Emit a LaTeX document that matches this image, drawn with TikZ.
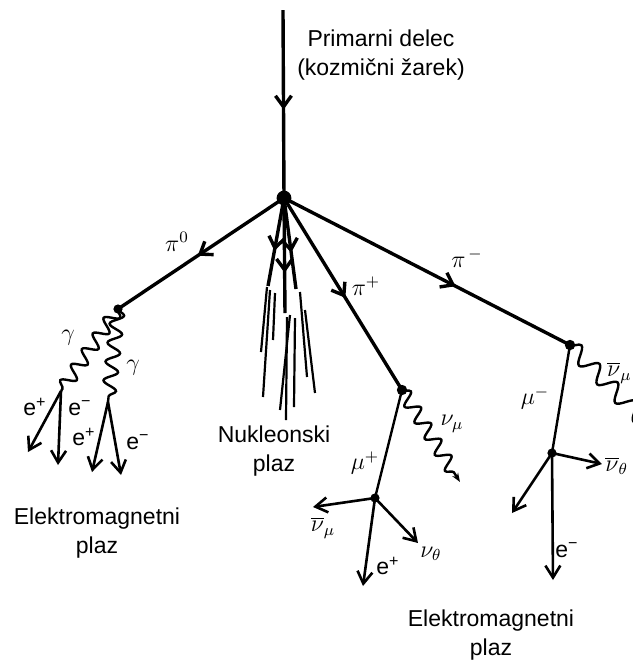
\documentclass[tikz,border=0pt]{standalone}
\usepackage{fontspec}
\setmainfont{Liberation Sans}
\usetikzlibrary{arrows.meta,decorations.pathmorphing,decorations.markings}

\tikzset{
  track/.style={line width=1.7pt},
  lepton/.style={line width=1.3pt, -{Straight Barb[length=6pt,width=7.5pt]}},
  midarrow/.style={postaction={decorate},
    decoration={markings,mark=at position #1 with {\arrow{Straight Barb[length=5.5pt,width=8pt]}}}},
  photon/.style={line width=1.2pt, decorate,
    decoration={snake,amplitude=3.4pt,segment length=9.5pt}},
  lbl/.style={inner sep=0pt, font=\fontsize{11.5}{13}\selectfont},
  plaz/.style={align=center, inner sep=0pt, font=\fontsize{11.5}{14.5}\selectfont}
}

\begin{document}
\begin{tikzpicture}[x=0.5pt,y=-0.5pt]
  \useasboundingbox (0,0) rectangle (633,661);

  %% Vertices
  \coordinate (top) at (283,10);
  \coordinate (v0)  at (284,198);
  \coordinate (pz)  at (118,309);
  \coordinate (pp)  at (402,390);
  \coordinate (pm)  at (570,345);
  \coordinate (mp)  at (375,498);
  \coordinate (mm)  at (552,453);
  \coordinate (g1)  at (61,391);
  \coordinate (g2)  at (108,402);

  %% Free ends
  \coordinate (e1) at (28,452);
  \coordinate (e2) at (58,465);
  \coordinate (e3) at (92,472);
  \coordinate (e4) at (121,475);
  \coordinate (s1) at (268,286);
  \coordinate (s2) at (285,313);
  \coordinate (s3) at (296,289);
  \coordinate (nm)  at (460,482);
  \coordinate (nmb) at (645,422);
  \coordinate (mp1) at (313,507);
  \coordinate (mp2) at (418,543);
  \coordinate (mp3) at (363,586);
  \coordinate (mm1) at (602,464);
  \coordinate (mm2) at (512,513);
  \coordinate (mm3) at (553,580);

  %% Primary particle
  \node[plaz] (prim) at (381,55) {Primarni delec\\(kozmični žarek)};
  \draw[track, midarrow=0.53] (top) -- (v0);
  \fill (v0) circle (3.7pt);

  %% Pions
  \draw[track, midarrow=0.52] (v0) -- (pz);
  \draw[track, midarrow=0.52] (v0) -- (pp);
  \draw[track, midarrow=0.6] (v0) -- (pm);
  \node[lbl] (lpz) at (177,242) {$\pi^0$};
  \node[lbl] (lpp) at (366,286) {$\pi^+$};
  \node[lbl] (lpm) at (467,258) {$\pi^{\,-}$};

  %% Nucleon shower
  \draw[track, midarrow=0.6] (v0) -- (s1);
  \draw[track, midarrow=0.65] (v0) -- (s2);
  \draw[track, midarrow=0.6] (v0) -- (s3);
  \draw[line width=1.1pt] (267,287) -- (261,352);
  \draw[line width=1.1pt] (270,290) -- (263,397);
  \draw[line width=1.1pt] (275,293) -- (273,340);
  \draw[line width=1.1pt] (290,315) -- (280,410);
  \draw[line width=1.1pt] (287,317) -- (286,420);
  \draw[line width=1.1pt] (295,318) -- (294,407);
  \draw[line width=1.1pt] (300,292) -- (307,377);
  \draw[line width=1.1pt] (305,310) -- (315,393);
  \node[plaz] (nuk) at (274,451) {Nukleonski\\plaz};

  %% pi0 -> 2 gamma -> e+ e-
  \fill (pz) circle (2.3pt);
  \draw[photon] (pz) -- (g1);
  \draw[photon] (pz) -- (g2);
  \node[lbl] (lg1) at (68,338) {$\gamma$};
  \node[lbl] (lg2) at (133,368) {$\gamma$};
  \draw[lepton] (g1) -- (e1);
  \draw[lepton] (g1) -- (e2);
  \draw[lepton] (g2) -- (e3);
  \draw[lepton] (g2) -- (e4);
  \node[lbl] (le1) at (35,407) {e\textsuperscript{+}};
  \node[lbl] (le2) at (80,408) {e\textsuperscript{−}};
  \node[lbl] (le3) at (84,437) {e\textsuperscript{+}};
  \node[lbl] (le4) at (138,442) {e\textsuperscript{−}};
  \node[plaz] (em1) at (97,533) {Elektromagnetni\\plaz};

  %% pi+ -> mu+ nu
  \fill (pp) circle (2.6pt);
  \draw[photon, decoration={post length=3pt}, -{Stealth[length=4.5pt]}] (pp) -- (nm);
  \node[lbl] (lnm) at (452,424) {$\nu_\mu$};
  \draw[line width=1.2pt] (pp) -- (mp);
  \node[lbl] (lmp) at (365,463) {$\mu^+$};
  \fill (mp) circle (2.3pt);
  \draw[lepton] (mp) -- (mp1);
  \draw[lepton] (mp) -- (mp2);
  \draw[lepton] (mp) -- (mp3);
  \node[lbl] (lmp1) at (323,528) {$\overline{\nu}_\mu$};
  \node[lbl] (lmp2) at (431,554) {$\nu_\theta$};
  \node[lbl] (lmp3) at (388,566) {e\textsuperscript{+}};

  %% pi- -> mu- nubar
  \fill (pm) circle (2.6pt);
  \draw[photon, decoration={amplitude=4pt,segment length=13pt}] (pm) -- (nmb);
  \node[lbl, anchor=east] (lnmb) at (632,373) {$\overline{\nu}_\mu$};
  \draw[line width=1.2pt] (pm) -- (mm);
  \node[lbl] (lmm) at (535,398) {$\mu^-$};
  \fill (mm) circle (2.3pt);
  \draw[lepton] (mm) -- (mm1);
  \draw[lepton] (mm) -- (mm2);
  \draw[lepton] (mm) -- (mm3);
  \node[lbl, anchor=west] (lmm1) at (605,466) {$\overline{\nu}_\theta$};
  \node[lbl] (lmm3) at (567,550) {e\textsuperscript{−}};
  \node[plaz] (em2) at (491,635) {Elektromagnetni\\plaz};
\end{tikzpicture}
\end{document}
